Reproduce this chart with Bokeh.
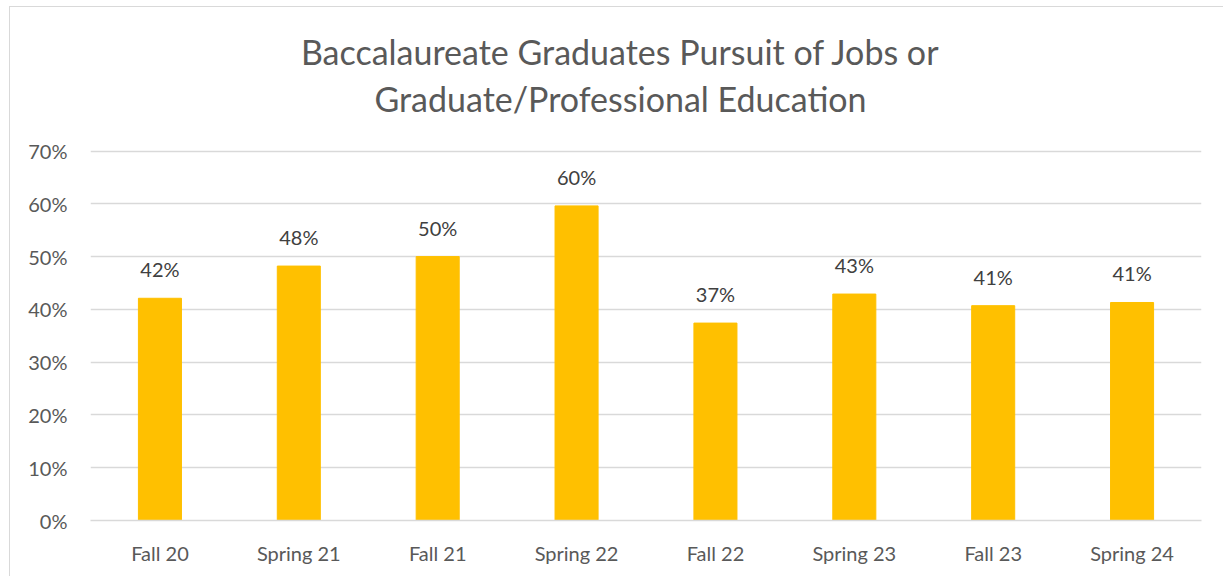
from bokeh.plotting import figure
from bokeh.models import NumeralTickFormatter, ColumnDataSource, FixedTicker, Range1d, Label
from bokeh.core.properties import value
from bokeh.embed import file_html
from bokeh.resources import INLINE

categories = ["Fall 20", "Spring 21", "Fall 21", "Spring 22", "Fall 22", "Spring 23", "Fall 23", "Spring 24"]
shares = [0.421, 0.482, 0.500, 0.596, 0.374, 0.429, 0.407, 0.413]
y_ticks = [0.0, 0.1, 0.2, 0.3, 0.4, 0.5, 0.6, 0.7]
title_lines = ["Baccalaureate Graduates Pursuit of Jobs or", "Graduate/Professional Education"]

FONT = "Lato"
W, H = 1214, 570
BOTTOM = 57
# frame spans the full height above the x axis so the title can live inside it;
# the value axis keeps 0.7 at the same pixel height as the reference's top gridline
Y_TOP = 0.7 * (H - BOTTOM) / 369.5

source = ColumnDataSource(dict(
    cat=categories,
    val=shares,
    label=[f"{v * 100:.0f}%" for v in shares],
))

p = figure(
    x_range=categories,
    y_range=Range1d(0, Y_TOP),
    width=W,
    height=H,
    output_backend="svg",
    toolbar_location=None,
    min_border_left=80,
    min_border_right=23,
    min_border_top=0,
    min_border_bottom=BOTTOM,
)
p.margin = (6, 0, 0, 9)
p.styles = {"border-left": "1px solid #d9d9d9", "border-top": "1px solid #d9d9d9"}

# two centred title lines, screen units relative to the plot frame (y up from its bottom)
for line, base_y in [(title_lines[0], 469), (title_lines[1], 422)]:
    p.add_layout(Label(x=530, y=base_y, x_units="screen", y_units="screen",
                       text=line, text_align="center", text_baseline="alphabetic",
                       text_font=FONT, text_font_size="34px",
                       text_color="#595959"))

p.vbar(x="cat", top="val", width=0.31, color="#FFC000", source=source)
p.text(x="cat", y="val", text="label", source=source, text_align="center",
       text_baseline="bottom", y_offset=-17, text_font=value(FONT),
       text_font_size="20px", text_color="#404040")

p.outline_line_color = None
p.xgrid.grid_line_color = None
p.ygrid.grid_line_color = "#d9d9d9"
p.ygrid.grid_line_width = 1.5

p.yaxis.ticker = FixedTicker(ticks=y_ticks)
p.yaxis.formatter = NumeralTickFormatter(format="0%")
p.yaxis.axis_line_color = None
p.yaxis.major_tick_line_color = None
p.yaxis.minor_tick_line_color = None
p.yaxis.major_label_text_font = FONT
p.yaxis.major_label_text_font_size = "20px"
p.yaxis.major_label_text_color = "#595959"
p.yaxis.major_label_standoff = 17

p.xaxis.axis_line_color = "#d9d9d9"
p.xaxis.axis_line_width = 1.5
p.xaxis.major_tick_line_color = None
p.xaxis.major_label_text_font = FONT
p.xaxis.major_label_text_font_size = "20px"
p.xaxis.major_label_text_color = "#595959"
p.xaxis.major_label_standoff = 14

open("out.html", "w").write(file_html(p, INLINE))
